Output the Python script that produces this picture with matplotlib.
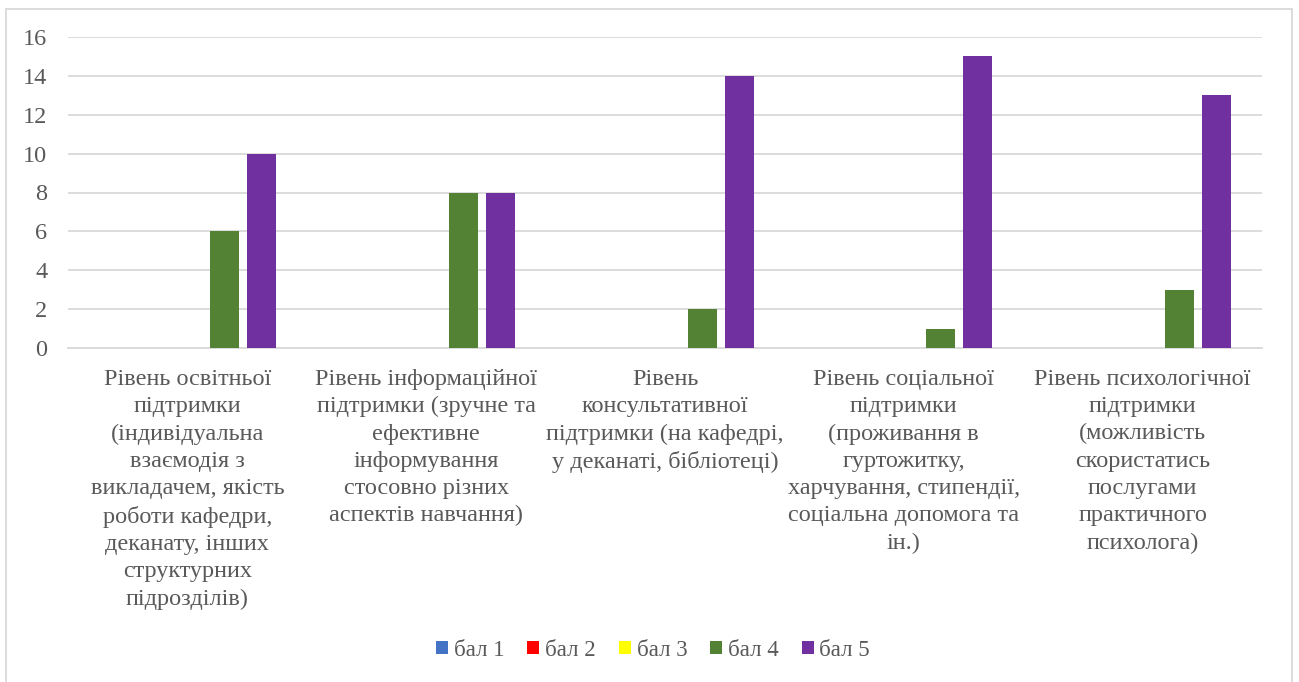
import matplotlib
matplotlib.use("Agg")
import matplotlib.pyplot as plt
from matplotlib.patches import Rectangle
import numpy as np

categories = [
    "Рівень освітньої\nпідтримки\n(індивідуальна\nвзаємодія з\nвикладачем, якість\nроботи кафедри,\nдеканату, інших\nструктурних\nпідрозділів)",
    "Рівень інформаційної\nпідтримки (зручне та\nефективне\nінформування\nстосовно різних\nаспектів навчання)",
    "Рівень\nконсультативної\nпідтримки (на кафедрі,\nу деканаті, бібліотеці)",
    "Рівень соціальної\nпідтримки\n(проживання в\nгуртожитку,\nхарчування, стипендії,\nсоціальна допомога та\nін.)",
    "Рівень психологічної\nпідтримки\n(можливість\nскористатись\nпослугами\nпрактичного\nпсихолога)",
]
series_names = ["бал 1", "бал 2", "бал 3", "бал 4", "бал 5"]
bal1 = [0, 0, 0, 0, 0]
bal2 = [0, 0, 0, 0, 0]
bal3 = [0, 0, 0, 0, 0]
bal4 = [6, 8, 2, 1, 3]
bal5 = [10, 8, 14, 15, 13]
yticks = [0, 2, 4, 6, 8, 10, 12, 14, 16]

colors = ["#4472C4", "#FF0000", "#FFFF00", "#548235", "#7030A0"]
text_color = "#595959"
grid_color = "#D9D9D9"

plt.rcParams['font.family'] = ['Liberation Serif', 'DejaVu Serif']

W, H = 1299, 682
fig = plt.figure(figsize=(W / 100, H / 100), dpi=100)
ax = fig.add_axes([68 / W, 1 - 348 / H, (1262 - 68) / W, (348 - 37) / H])

x = np.arange(len(categories))
slot = 37 / 238.8
bw = 29 / 238.8
all_series = [bal1, bal2, bal3, bal4, bal5]
handles = []
for i, (name, vals, c) in enumerate(zip(series_names, all_series, colors)):
    h = ax.bar(x + (i - 2) * slot, vals, width=bw, color=c, label=name, zorder=3)
    handles.append(h)

ax.set_xlim(-0.5, len(categories) - 0.5)
ax.set_ylim(0, 16)
ax.set_yticks(yticks)
ax.yaxis.grid(True, color=grid_color, linewidth=1.3, zorder=0)
ax.set_axisbelow(True)
for s in ["left", "right", "top"]:
    ax.spines[s].set_visible(False)
ax.spines["bottom"].set_color(grid_color)
ax.spines["bottom"].set_linewidth(1.3)
ax.tick_params(axis="y", length=0, pad=15, labelsize=17.5, labelcolor=text_color)
ax.tick_params(axis="x", length=0, pad=15, labelsize=17.5, labelcolor=text_color)
ax.set_xticks(x)
ax.set_xticklabels(categories, linespacing=1.39, va="top", ha="center")

leg = fig.legend(handles=handles, labels=series_names, loc="center",
                 bbox_to_anchor=(653 / W, 1 - 650 / H), ncol=5, frameon=False,
                 fontsize=16.5, handlelength=0.52, handleheight=0.52,
                 handletextpad=0.26, columnspacing=1.0, labelcolor=text_color)

fig.patches.append(Rectangle((6 / W, -0.05), (1292 - 6) / W, 1.05 - 9 / H,
                             transform=fig.transFigure, fill=False,
                             edgecolor=grid_color, linewidth=1.3))

fig.savefig("out.png", dpi=100)
